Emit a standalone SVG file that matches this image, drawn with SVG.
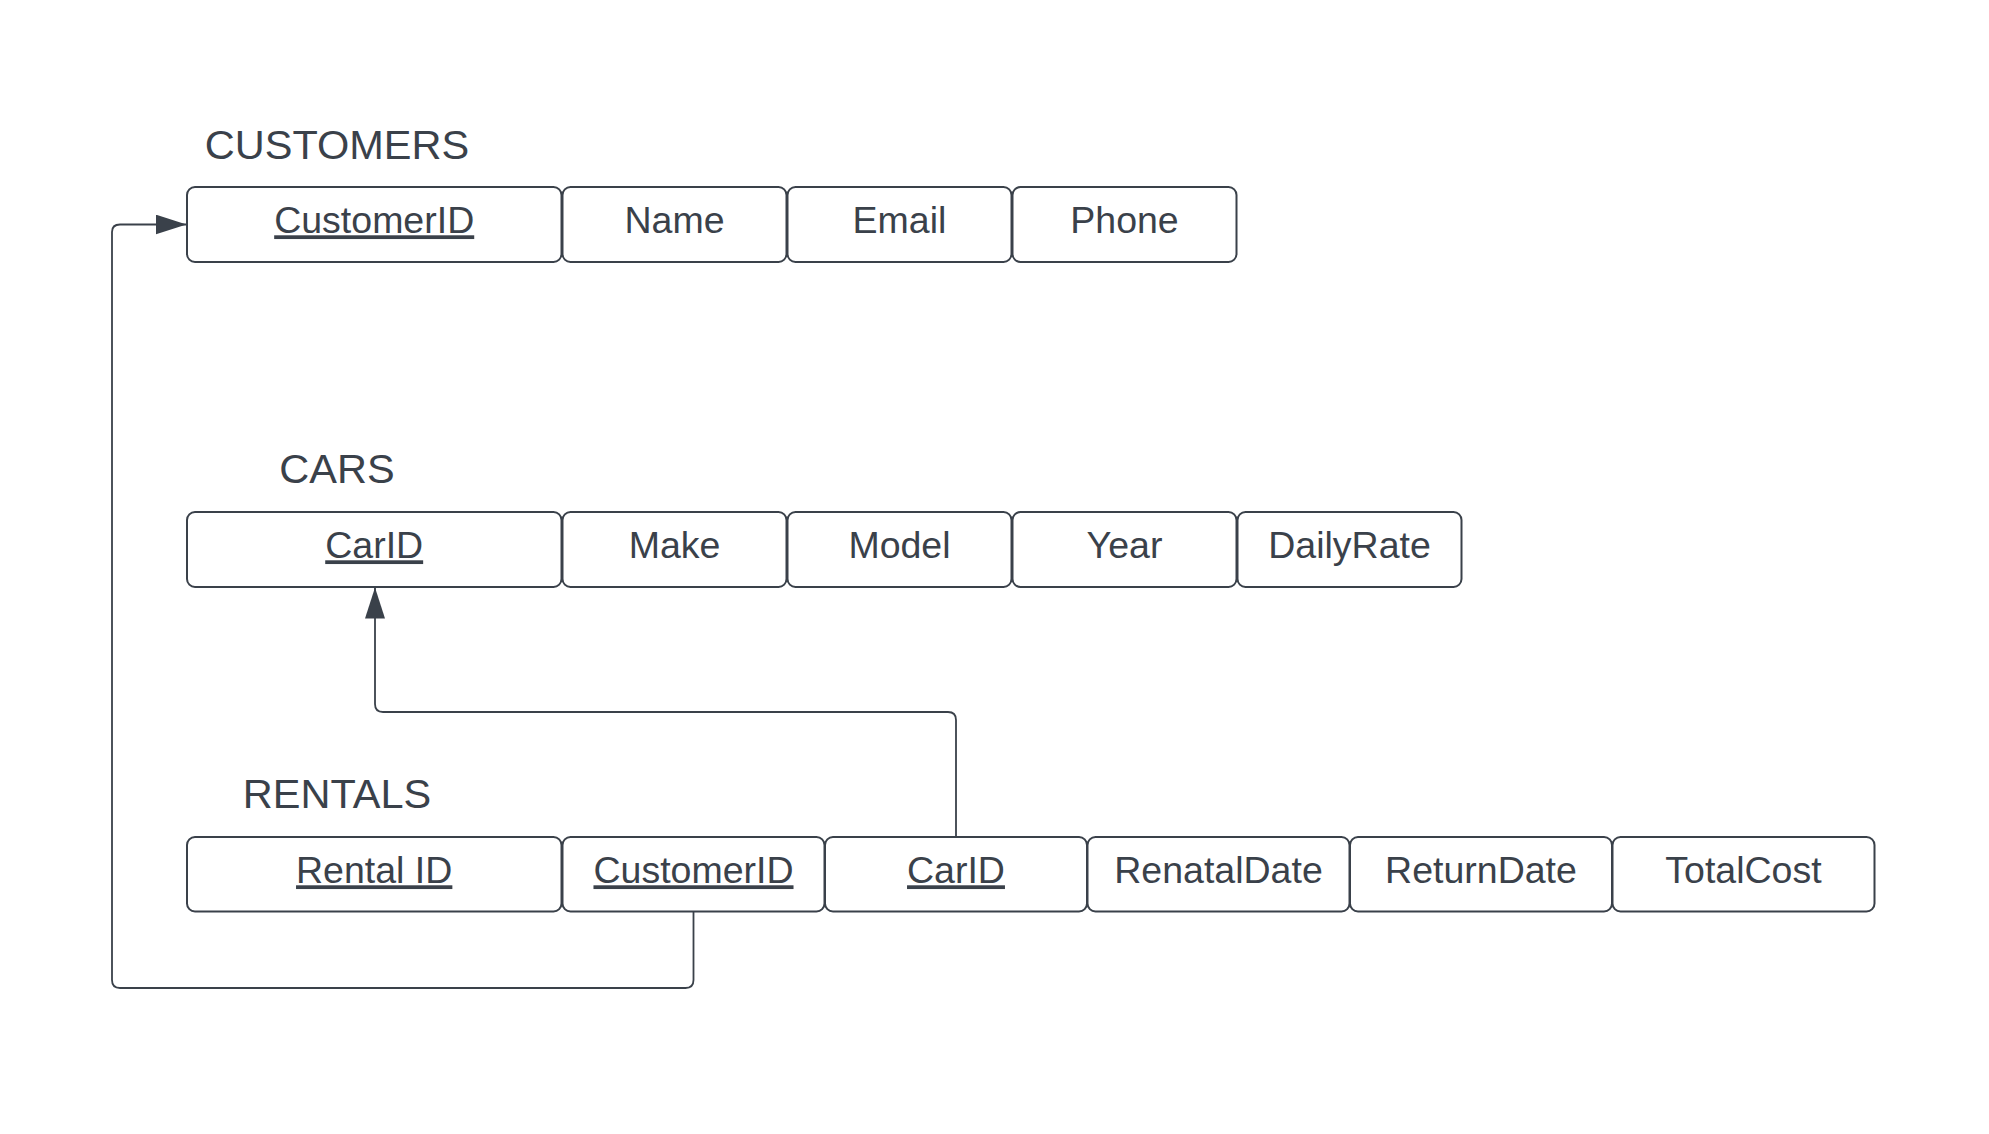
<svg xmlns="http://www.w3.org/2000/svg" width="1989" height="1134" viewBox="0 0 1989 1134">
<style>
.box{fill:#ffffff;stroke:#3a414a;stroke-width:2}
.cell{font-family:"Liberation Sans",Arial,sans-serif;font-size:37.5px;fill:#3a414a;text-anchor:middle}
.key{text-decoration:underline}
.title{font-family:"Liberation Sans",Arial,sans-serif;font-size:41.5px;fill:#3a414a;text-anchor:middle}
.conn{fill:none;stroke:#3a414a;stroke-width:1.8}
</style>
<defs>
<marker id="arrow" markerUnits="userSpaceOnUse" markerWidth="32" markerHeight="22" refX="31" refY="10" orient="auto" viewBox="0 0 32 22">
<path d="M0,0 L31,10 L0,20 Z" fill="#3a414a"/>
</marker>
</defs>
<rect width="1989" height="1134" fill="#ffffff"/>

<g id="connectors">
<path class="conn" d="M693.5 912 L693.5 980 Q693.5 988 685.5 988 L120 988 Q112 988 112 980 L112 232 Q112 224.5 120 224.5 L186.5 224.5" marker-end="url(#arrow)"/>
<path class="conn" d="M956 836.5 L956 720 Q956 712 948 712 L383 712 Q375 712 375 704 L375 587.5" marker-end="url(#arrow)"/>
</g>

<g id="customers">
<text class="title" x="337" y="158.5">CUSTOMERS</text>
<g id="customers-customerid"><rect class="box" x="187" y="187" width="374.5" height="75" rx="8"/><text class="cell key" x="374.2" y="233.3">CustomerID</text></g>
<g id="customers-name"><rect class="box" x="562.5" y="187" width="224" height="75" rx="8"/><text class="cell" x="674.5" y="233.3">Name</text></g>
<g id="customers-email"><rect class="box" x="787.5" y="187" width="224" height="75" rx="8"/><text class="cell" x="899.5" y="233.3">Email</text></g>
<g id="customers-phone"><rect class="box" x="1012.5" y="187" width="224" height="75" rx="8"/><text class="cell" x="1124.5" y="233.3">Phone</text></g>
</g>

<g id="cars">
<text class="title" x="337" y="482.7">CARS</text>
<g id="cars-carid"><rect class="box" x="187" y="512" width="374.5" height="75" rx="8"/><text class="cell key" x="374.2" y="558.3">CarID</text></g>
<g id="cars-make"><rect class="box" x="562.5" y="512" width="224" height="75" rx="8"/><text class="cell" x="674.5" y="558.3">Make</text></g>
<g id="cars-model"><rect class="box" x="787.5" y="512" width="224" height="75" rx="8"/><text class="cell" x="899.5" y="558.3">Model</text></g>
<g id="cars-year"><rect class="box" x="1012.5" y="512" width="224" height="75" rx="8"/><text class="cell" x="1124.5" y="558.3">Year</text></g>
<g id="cars-dailyrate"><rect class="box" x="1237.5" y="512" width="224" height="75" rx="8"/><text class="cell" x="1349.5" y="558.3">DailyRate</text></g>
</g>

<g id="rentals">
<text class="title" x="337" y="808.3">RENTALS</text>
<g id="rentals-rentalid"><rect class="box" x="187" y="837" width="374.5" height="74.5" rx="8"/><text class="cell key" x="374.2" y="883.3">Rental ID</text></g>
<g id="rentals-customerid"><rect class="box" x="562.5" y="837" width="262" height="74.5" rx="8"/><text class="cell key" x="693.5" y="883.3">CustomerID</text></g>
<g id="rentals-carid"><rect class="box" x="825" y="837" width="262" height="74.5" rx="8"/><text class="cell key" x="956" y="883.3">CarID</text></g>
<g id="rentals-renataldate"><rect class="box" x="1087.5" y="837" width="262" height="74.5" rx="8"/><text class="cell" x="1218.5" y="883.3">RenatalDate</text></g>
<g id="rentals-returndate"><rect class="box" x="1350" y="837" width="262" height="74.5" rx="8"/><text class="cell" x="1481" y="883.3">ReturnDate</text></g>
<g id="rentals-totalcost"><rect class="box" x="1612.5" y="837" width="262" height="74.5" rx="8"/><text class="cell" x="1743.5" y="883.3">TotalCost</text></g>
</g>
</svg>
